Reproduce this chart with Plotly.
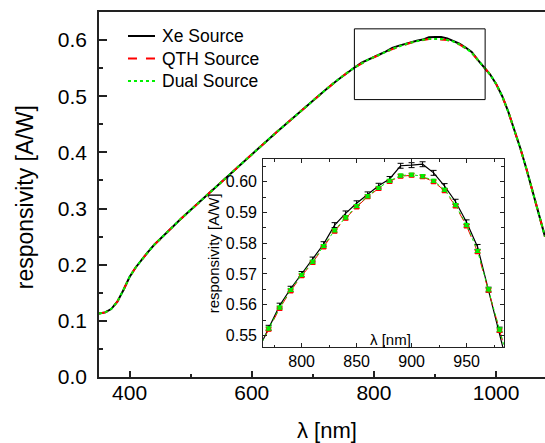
import plotly.graph_objects as go

# ---------------- data ----------------
wavelength = [350, 360, 370, 380, 390, 400, 410, 420, 430, 440, 450, 460, 470, 480, 490,
              500, 520, 540, 560, 580, 600, 620, 640, 660, 680, 700, 720, 740, 750, 760,
              770, 780, 790, 800, 810, 820, 830, 840, 850, 860, 870, 880, 890, 900, 910,
              920, 930, 940, 950, 960, 970, 980,
              990, 1000, 1010, 1020, 1030, 1040, 1050, 1060, 1070, 1080]

xe_resp = [0.113, 0.115, 0.121, 0.134, 0.155, 0.178, 0.195, 0.2095, 0.2225, 0.235, 0.246, 0.257, 0.2675, 0.2775, 0.2875,
           0.2975, 0.317, 0.337, 0.357, 0.377, 0.3965, 0.416, 0.4355, 0.4545, 0.4735, 0.492, 0.5105, 0.5285, 0.537, 0.545,
           0.5525, 0.5597, 0.5652, 0.5700, 0.5747, 0.5797, 0.5859, 0.5897, 0.5930, 0.5959, 0.5987, 0.6009, 0.6052, 0.6054, 0.6057,
           0.6029, 0.5986, 0.5935, 0.5868, 0.5788, 0.5649, 0.5519,
           0.539, 0.522, 0.500, 0.472, 0.441, 0.406, 0.369, 0.330, 0.290, 0.250]

qth_resp = [0.113, 0.115, 0.121, 0.134, 0.155, 0.178, 0.195, 0.2095, 0.2225, 0.235, 0.246, 0.257, 0.2675, 0.2775, 0.2875,
            0.2975, 0.317, 0.337, 0.357, 0.377, 0.3965, 0.416, 0.4355, 0.4545, 0.4735, 0.492, 0.5105, 0.5285, 0.537, 0.545,
            0.5520, 0.5588, 0.5645, 0.5694, 0.5737, 0.5788, 0.5839, 0.5881, 0.5918, 0.5951, 0.5978, 0.6001, 0.6018, 0.6021, 0.6016,
            0.6000, 0.5971, 0.5921, 0.5856, 0.5772, 0.5647, 0.5516,
            0.539, 0.522, 0.500, 0.472, 0.441, 0.406, 0.369, 0.330, 0.290, 0.250]

dual_resp = [0.113, 0.115, 0.121, 0.134, 0.155, 0.178, 0.195, 0.2095, 0.2225, 0.235, 0.246, 0.257, 0.2675, 0.2775, 0.2875,
             0.2975, 0.317, 0.337, 0.357, 0.377, 0.3965, 0.416, 0.4355, 0.4545, 0.4735, 0.492, 0.5105, 0.5285, 0.537, 0.545,
             0.5523, 0.5591, 0.5648, 0.5697, 0.5740, 0.5791, 0.5842, 0.5884, 0.5921, 0.5953, 0.5980, 0.6003, 0.6020, 0.6023, 0.6018,
             0.6003, 0.5974, 0.5924, 0.5859, 0.5775, 0.5650, 0.5519,
             0.539, 0.522, 0.500, 0.472, 0.441, 0.406, 0.369, 0.330, 0.290, 0.250]

# measured points shown in the inset (with uncertainties)
inset_wavelength = [770, 780, 790, 800, 810, 820, 830, 840, 850, 860, 870,
                    880, 890, 900, 910, 920, 930, 940, 950, 960, 970, 980]
xe_err = [0.0008, 0.0008, 0.0008, 0.0008, 0.0008, 0.0008, 0.0008, 0.0008, 0.0008, 0.0008, 0.0008,
          0.0008, 0.0008, 0.0008, 0.0008, 0.0008, 0.0008, 0.0008, 0.0008, 0.0008, 0.0008, 0.0008]
qth_err = [0.0005, 0.0005, 0.0005, 0.0005, 0.0005, 0.0005, 0.0005, 0.0005, 0.0005, 0.0005, 0.0005,
           0.0005, 0.0005, 0.0005, 0.0005, 0.0005, 0.0005, 0.0005, 0.0005, 0.0005, 0.0005, 0.0005]
dual_err = [0.0005, 0.0005, 0.0005, 0.0005, 0.0005, 0.0005, 0.0005, 0.0005, 0.0005, 0.0005, 0.0005,
            0.0005, 0.0005, 0.0005, 0.0005, 0.0005, 0.0005, 0.0005, 0.0005, 0.0005, 0.0005, 0.0005]

series_names = ["Xe Source", "QTH Source", "Dual Source"]

# ---------------- figure ----------------
FONT = "Liberation Sans, Arial, Helvetica, sans-serif"
BLACK = "#000000"
RED = "#ff0000"
GREEN = "#00f000"
AX = "#222222"


def sub(xs, ys, keep):
    return [y for x, y in zip(xs, ys) if x in keep]


fig = go.Figure()

styles = [(xe_resp, BLACK, "solid"), (qth_resp, RED, "dash"), (dual_resp, GREEN, "dot")]
for name, (ys, col, dash) in zip(series_names, styles):
    fig.add_trace(go.Scatter(x=wavelength, y=ys, mode="lines", name=name,
                             line=dict(color=col, width=2, dash=dash),
                             xaxis="x", yaxis="y", showlegend=False))

# inset traces
fig.add_trace(go.Scatter(x=wavelength, y=xe_resp, mode="lines", showlegend=False,
                         line=dict(color=BLACK, width=1.2), xaxis="x2", yaxis="y2"))
fig.add_trace(go.Scatter(x=inset_wavelength, y=sub(wavelength, xe_resp, inset_wavelength), mode="markers",
                         showlegend=False, marker=dict(size=1, color=BLACK),
                         error_y=dict(type="data", array=xe_err, color=BLACK, thickness=1, width=3),
                         xaxis="x2", yaxis="y2"))
fig.add_trace(go.Scatter(x=wavelength, y=qth_resp, mode="lines", showlegend=False,
                         line=dict(color=RED, width=1, dash="dash"), xaxis="x2", yaxis="y2"))
fig.add_trace(go.Scatter(x=inset_wavelength, y=sub(wavelength, qth_resp, inset_wavelength), mode="markers",
                         showlegend=False, marker=dict(size=5, color=RED, symbol="square"),
                         error_y=dict(type="data", array=qth_err, color=RED, thickness=1, width=3),
                         xaxis="x2", yaxis="y2"))
fig.add_trace(go.Scatter(x=wavelength, y=dual_resp, mode="lines", showlegend=False,
                         line=dict(color=GREEN, width=1, dash="dot"), xaxis="x2", yaxis="y2"))
fig.add_trace(go.Scatter(x=inset_wavelength, y=sub(wavelength, dual_resp, inset_wavelength), mode="markers",
                         showlegend=False, marker=dict(size=4, color=GREEN, symbol="square"),
                         error_y=dict(type="data", array=dual_err, color=GREEN, thickness=1, width=3),
                         xaxis="x2", yaxis="y2"))

axis_common = dict(showgrid=False, zeroline=False, showline=True, linecolor=AX,
                   ticks="inside", tickcolor=AX)

# hand-placed legend (line samples + labels) in paper coordinates
legend_rows_y = [0.9342, 0.8724, 0.8107]
legend_shapes = []
legend_texts = []
for name, (ys, col, dash), ly in zip(series_names, styles, legend_rows_y):
    legend_shapes.append(dict(type="line", xref="paper", yref="paper", x0=0.065, x1=0.1256, y0=ly, y1=ly,
                              line=dict(color=col, width=2, dash=dash)))
    legend_texts.append(dict(text=name, xref="paper", yref="paper", x=0.1368, y=ly, showarrow=False,
                             xanchor="left", yanchor="middle", font=dict(size=17.5)))

fig.update_layout(
    width=545, height=443, autosize=False,
    margin=dict(l=99, r=0, t=12, b=66, pad=0),
    paper_bgcolor="white", plot_bgcolor="white",
    font=dict(family=FONT, color=BLACK),
    showlegend=False,
    xaxis=dict(domain=[0, 1], range=[350, 1080], tick0=400, dtick=200,
               ticklen=6, tickwidth=1.5, linewidth=1.5, mirror=True,
               tickfont=dict(size=21), ticklabelstandoff=-4,
               minor=dict(dtick=100, tick0=400, ticklen=3.5, ticks="inside", tickcolor=AX, tickwidth=1.5),
               anchor="y", **axis_common),
    yaxis=dict(domain=[0, 1], range=[0, 0.65], tick0=0, dtick=0.1, tickformat=".1f",
               ticklen=8, tickwidth=1.5, linewidth=1.5, mirror=False,
               tickfont=dict(size=21), ticklabelstandoff=6,
               minor=dict(dtick=0.05, tick0=0, ticklen=4, ticks="inside", tickcolor=AX, tickwidth=1.5),
               anchor="x", **axis_common),
    xaxis2=dict(domain=[0.368, 0.908], range=[765, 984], tick0=800, dtick=50,
                ticklen=4, tickwidth=1, linewidth=1, mirror="allticks",
                tickfont=dict(size=16), ticklabelstandoff=0,
                minor=dict(dtick=25, tick0=800, ticklen=2.5, ticks="inside", tickcolor=AX, tickwidth=1),
                anchor="y2", **axis_common),
    yaxis2=dict(domain=[0.0818, 0.5964], range=[0.5462, 0.6073], tick0=0.55, dtick=0.01, tickformat=".2f",
                ticklen=4, tickwidth=1, linewidth=1, mirror="allticks",
                tickfont=dict(size=16), ticklabelstandoff=2,
                minor=dict(dtick=0.005, tick0=0.55, ticklen=2.5, ticks="inside", tickcolor=AX, tickwidth=1),
                anchor="x2", **axis_common),
    shapes=[dict(type="rect", xref="x", yref="y", x0=768, x1=982, y0=0.494, y1=0.620,
                 line=dict(color=BLACK, width=1), fillcolor="rgba(0,0,0,0)")] + legend_shapes,
    annotations=[
        dict(text="responsivity [A/W]", xref="paper", yref="paper", x=-0.166, y=0.4925,
             textangle=-90, showarrow=False, font=dict(size=23), xanchor="center", yanchor="middle"),
        dict(text="λ [nm]", xref="paper", yref="paper", x=0.511, y=-0.147,
             showarrow=False, font=dict(size=22), xanchor="center", yanchor="middle"),
        dict(text="responsivity [A/W]", xref="paper", yref="paper", x=0.2556, y=0.3388,
             textangle=-90, showarrow=False, font=dict(size=15), xanchor="center", yanchor="middle"),
        dict(text="λ [nm]", xref="paper", yref="paper", x=0.6525, y=0.1029,
             showarrow=False, font=dict(size=15), xanchor="center", yanchor="middle"),
    ] + legend_texts,
)

fig.write_html("out.html", config={"displayModeBar": False},
               post_script="document.body.style.margin='0px';")
